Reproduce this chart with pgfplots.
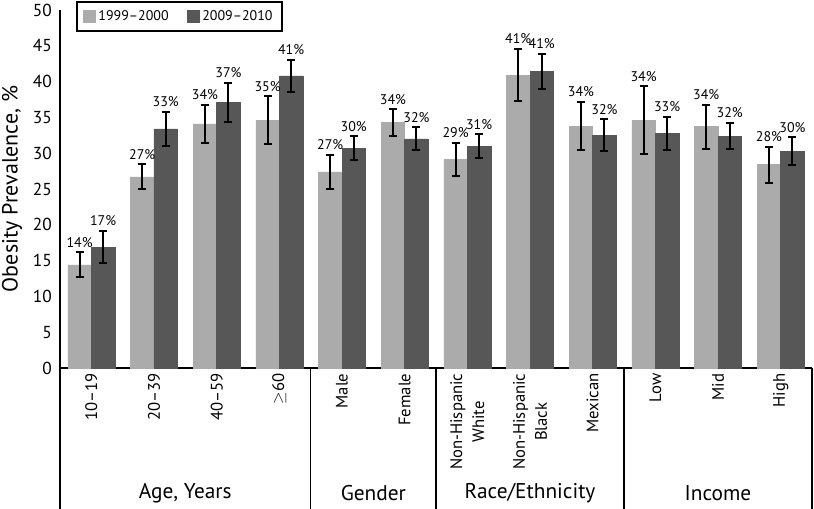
\documentclass[border=0pt]{standalone}
\usepackage{fontspec}
\setmainfont{PT Sans}
\usepackage{pgfplots}
\pgfplotsset{compat=1.18}
\usepackage{pgfplotstable}

\definecolor{lightbar}{HTML}{ABABAB}
\definecolor{darkbar}{HTML}{575757}

% x, 1999-2000 value/error, 2009-2010 value/error, printed labels
\pgfplotstableread{
x  y1   e1   y2   e2   l1 l2
0  14.4 1.75 16.9 2.3  14 17
1  26.7 1.75 33.4 2.4  27 33
2  34.1 2.7  37.1 2.7  34 37
3  34.6 3.35 40.8 2.25 35 41
4  27.4 2.4  30.7 1.65 27 30
5  34.3 1.85 32.0 1.6  34 32
6  29.1 2.35 31.0 1.65 29 31
7  40.9 3.65 41.4 2.45 41 41
8  33.8 3.35 32.5 2.25 34 32
9  34.6 4.75 32.8 2.3  34 33
10 33.7 3.1  32.4 1.85 34 32
11 28.4 2.5  30.3 1.9  28 30
}\data

\pgfplotsset{
  errstyle/.style={error bars/.cd, y dir=both, y explicit,
    error bar style={line width=1.5pt, black},
    error mark options={rotate=90, mark size=3pt, line width=1.5pt, black}},
  labstyle/.style={forget plot, draw=none, mark=none, point meta=explicit symbolic,
    nodes near coords={\pgfplotspointmeta\%},
    every node near coord/.style={font=\fontsize{10.5}{11}\selectfont, anchor=south,
      yshift=3.5pt, inner sep=0pt, text=black}},
}

\begin{document}
\begin{tikzpicture}
\begin{axis}[
  at={(0,0)}, anchor=south west,
  width=564pt, height=268.5pt, scale only axis,
  xmin=-0.5, xmax=11.5, ymin=0, ymax=50,
  enlargelimits=false, clip=false,
  axis x line*=bottom, axis y line*=left,
  axis line style={line width=1pt, black},
  major tick length=0pt,
  ytick={0,5,...,50},
  yticklabel style={font=\fontsize{13}{14}\selectfont, inner sep=0pt, xshift=-6pt},
  /pgf/number format/assume math mode=true,
  xtick={0,...,11},
  xticklabels={10–19, 20–39, 40–59, {$\geq$60}, Male, Female,
    {Non-Hispanic\\White}, {Non-Hispanic\\Black}, Mexican, Low, Mid, High},
  xticklabel style={rotate=90, anchor=east, align=center,
    font=\fontsize{12.5}{16.5}\selectfont, inner xsep=4pt, inner ysep=0pt},
  extra x ticks={-0.5,3.5,5.5,8.5,11.5},
  extra x tick labels={},
  extra x tick style={major tick length=106pt, tick align=outside,
    tick style={line width=1pt, black}},
  every axis y label/.style={at={(axis description cs:0,0.5)}, xshift=-36pt,
    rotate=90, anchor=center, font=\fontsize{16.5}{18}\selectfont},
  ylabel={Obesity Prevalence, \%},
  legend style={at={(axis description cs:0.0213,1.025)}, anchor=north west,
    legend columns=2, draw=black, line width=1.2pt,
    font=\fontsize{10.5}{12}\selectfont, inner xsep=5pt, inner ysep=4.5pt,
    /tikz/every even column/.append style={column sep=12pt}},
]
  % 1999-2000
  \addplot[ybar, bar width=0.375, bar shift=0pt, fill=lightbar, draw=lightbar,
    legend image code/.code={\fill[lightbar] (0pt,-4pt) rectangle (8pt,4pt);},
    errstyle]
    table[x expr=\thisrow{x}-0.1875, y=y1, y error=e1] {\data};
  \addlegendentry{1999–2000}
  % 2009-2010
  \addplot[ybar, bar width=0.375, bar shift=0pt, fill=darkbar, draw=darkbar,
    legend image code/.code={\fill[darkbar] (0pt,-4pt) rectangle (8pt,4pt);},
    errstyle]
    table[x expr=\thisrow{x}+0.1875, y=y2, y error=e2] {\data};
  \addlegendentry{2009–2010}
  % value labels above the error bars
  \addplot[labstyle]
    table[x expr=\thisrow{x}-0.1875, y expr=\thisrow{y1}+\thisrow{e1}, meta=l1] {\data};
  \addplot[labstyle]
    table[x expr=\thisrow{x}+0.1875, y expr=\thisrow{y2}+\thisrow{e2}, meta=l2] {\data};
  % group names
  \node[font=\fontsize{16}{18}\selectfont, yshift=-94pt] at (axis cs:1.5,0) {Age, Years};
  \node[font=\fontsize{16}{18}\selectfont, yshift=-94pt] at (axis cs:4.5,0) {Gender};
  \node[font=\fontsize{16}{18}\selectfont, yshift=-94pt] at (axis cs:7,0) {Race/Ethnicity};
  \node[font=\fontsize{16}{18}\selectfont, yshift=-94pt] at (axis cs:10,0) {Income};
\end{axis}
\pgfresetboundingbox
\path[use as bounding box] (-45pt,-105pt) rectangle (565.5pt,276pt);
\end{tikzpicture}
\end{document}
